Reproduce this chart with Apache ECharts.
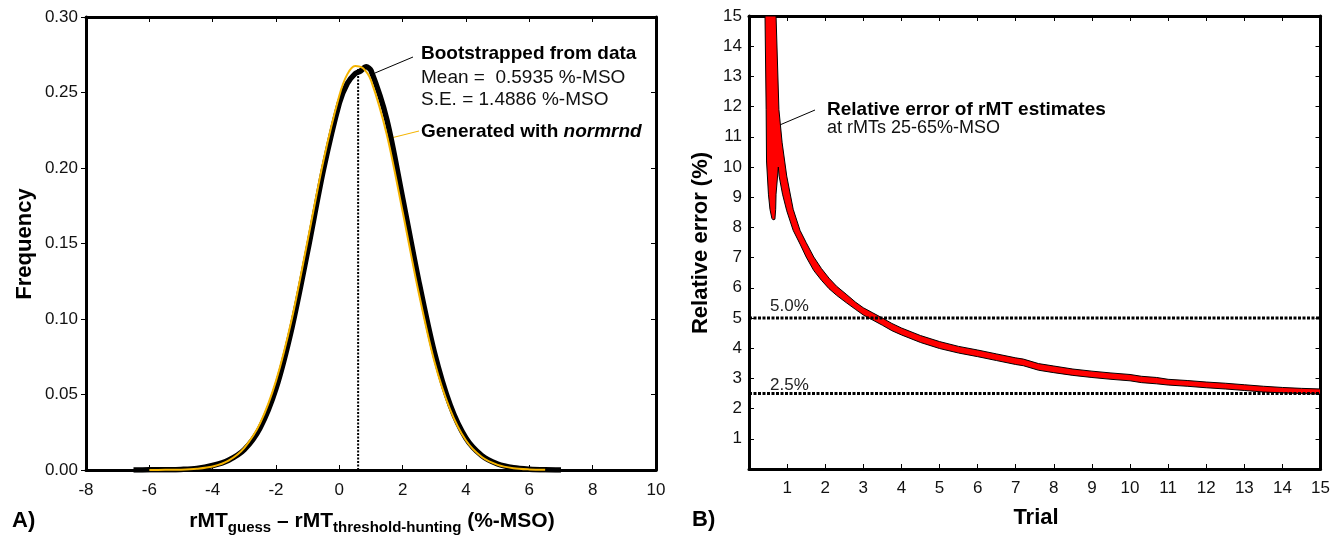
<!DOCTYPE html>
<html>
<head>
<meta charset="utf-8">
<script src="https://cdn.jsdelivr.net/npm/echarts@6/dist/echarts.min.js"></script>
<style>
html, body { margin: 0; padding: 0; background: #fff; }
#main { width: 1333px; height: 537px; }
</style>
</head>
<body>
<div id="main"></div>
<script>
// panel A: distribution of rMT differences
var bootX = [-6.5, -6, -5.5, -5, -4.5, -4, -3.5, -3, -2.5, -2, -1.5, -1, -0.5, 0, 0.25, 0.5, 0.65, 0.85, 1, 1.5, 2, 2.5, 3, 3.5, 4, 4.5, 5, 5.5, 6, 6.5, 7];
var bootFreq = [0, 0.0001, 0.0002, 0.0004, 0.001, 0.003, 0.0065, 0.0135, 0.028, 0.054, 0.094, 0.145, 0.199, 0.243, 0.256, 0.2625, 0.264, 0.267, 0.2645, 0.232, 0.18, 0.126, 0.078, 0.043, 0.021, 0.0095, 0.004, 0.0015, 0.0005, 0.0001, 0];
var normX = [-6, -5.5, -5, -4.5, -4, -3.5, -3, -2.5, -2, -1.5, -1, -0.5, 0, 0.25, 0.5, 0.75, 1, 1.5, 2, 2.5, 3, 3.5, 4, 4.5, 5, 5.5, 6, 6.5];
var normFreq = [0, 0.0001, 0.0002, 0.0008, 0.0023, 0.0062, 0.0147, 0.031, 0.059, 0.1, 0.152, 0.205, 0.248, 0.262, 0.2675, 0.266, 0.258, 0.222, 0.171, 0.118, 0.072, 0.04, 0.0195, 0.0086, 0.0034, 0.0012, 0.0004, 0.0001];
var meanDiff = 0.5935;
var meanPeak = 0.266;

// panel B: relative error band vs trial ([trial, error %])
var spikeEdge = [[0.42, 15], [0.45, 11.9], [0.46, 10.2], [0.51, 9.1], [0.55, 8.6], [0.6, 8.3], [0.63, 8.25], [0.68, 8.27], [0.7, 8.6], [0.71, 9.1], [0.77, 10.0]];
var lowerEdge = [[0.79, 9.7], [0.88, 9.1], [0.99, 8.55], [1.16, 7.9], [1.35, 7.42], [1.5, 7.02], [1.7, 6.57], [1.9, 6.25], [2.1, 5.97], [2.3, 5.75], [2.55, 5.51], [2.8, 5.28], [3.0, 5.1], [3.25, 4.93], [3.5, 4.76], [3.75, 4.58], [4.0, 4.44], [4.5, 4.19], [5.0, 3.99], [5.5, 3.84], [6.0, 3.72], [6.5, 3.59], [7.0, 3.46], [7.2, 3.42], [7.6, 3.27], [8.0, 3.19], [8.5, 3.1], [9.0, 3.03], [9.5, 2.97], [10.0, 2.92], [10.3, 2.86], [10.7, 2.82], [11.0, 2.78], [11.5, 2.74], [12.0, 2.69], [12.5, 2.65], [13.0, 2.6], [13.5, 2.55], [14.0, 2.52], [14.5, 2.5], [15.0, 2.48]];
var upperEdge = [[0.71, 15], [0.785, 11.9], [0.87, 10.8], [0.99, 9.7], [1.16, 8.6], [1.34, 7.9], [1.5, 7.5], [1.7, 7.02], [1.9, 6.64], [2.1, 6.32], [2.3, 6.05], [2.55, 5.79], [2.8, 5.52], [3.0, 5.34], [3.25, 5.17], [3.5, 5.0], [3.75, 4.82], [4.0, 4.67], [4.5, 4.42], [5.0, 4.22], [5.5, 4.06], [6.0, 3.94], [6.5, 3.81], [7.0, 3.68], [7.2, 3.64], [7.6, 3.49], [8.0, 3.41], [8.5, 3.31], [9.0, 3.24], [9.5, 3.18], [10.0, 3.13], [10.3, 3.07], [10.7, 3.03], [11.0, 2.97], [11.5, 2.93], [12.0, 2.88], [12.5, 2.84], [13.0, 2.79], [13.5, 2.74], [14.0, 2.7], [14.5, 2.67], [15.0, 2.65]];
var refLevels = [5.0, 2.5];

var FONT = '"Liberation Sans", Arial, Helvetica, sans-serif';

function zip(xs, ys) {
	return xs.map(function (x, i) { return [x, ys[i]]; });
}

function axis(grid, pos, min, max, step, labels, fmt, tickInside, margin) {
	return {
		type: 'value', gridIndex: grid, position: pos,
		min: min, max: max, interval: step,
		axisLine: { onZero: false, lineStyle: { color: '#000', width: 3 } },
		axisTick: { show: true, inside: tickInside, length: 5, lineStyle: { color: '#000', width: 1 } },
		axisLabel: { show: labels, margin: margin, fontSize: 17, color: '#111', fontFamily: FONT, formatter: fmt },
		splitLine: { show: false }
	};
}

var bandOutline = spikeEdge.concat(lowerEdge, upperEdge.slice().reverse());
var dots = [3, 1.5];

var myChart = echarts.init(document.getElementById('main'));

var option = {
	animation: false,
	backgroundColor: '#fff',
	grid: [
		{ left: 86, top: 17, width: 570, height: 453 },
		{ left: 749, top: 16, width: 573, height: 453 }
	],
	xAxis: [
		axis(0, 'bottom', -8, 10, 2, true, function (v) { return String(v); }, true, 12),
		axis(0, 'top', -8, 10, 2, false, null, true, 8),
		axis(1, 'bottom', 0, 15, 1, true, function (v) { return v === 0 ? '' : String(v); }, true, 11),
		axis(1, 'top', 0, 15, 1, false, null, true, 8)
	],
	yAxis: [
		axis(0, 'left', 0, 0.3, 0.05, true, function (v) { return v.toFixed(2); }, false, 8),
		axis(0, 'right', 0, 0.3, 0.05, false, null, true, 8),
		axis(1, 'left', 0, 15, 1, true, function (v) { return v === 0 ? '' : String(v); }, true, 7),
		axis(1, 'right', 0, 15, 1, false, null, true, 8)
	],
	series: [
		{
			name: 'Bootstrapped from data', type: 'line', xAxisIndex: 0, yAxisIndex: 0,
			smooth: 0.3, showSymbol: false,
			lineStyle: { color: '#000', width: 5.5 },
			data: zip(bootX, bootFreq)
		},
		{
			name: 'Generated with normrnd', type: 'line', xAxisIndex: 0, yAxisIndex: 0,
			smooth: 0.3, showSymbol: false,
			lineStyle: { color: '#f5b400', width: 2 },
			data: zip(normX, normFreq)
		},
		{
			name: 'Mean', type: 'line', xAxisIndex: 0, yAxisIndex: 0,
			showSymbol: false,
			lineStyle: { color: '#000', width: 2, type: [2, 1.5] },
			data: [[meanDiff, 0], [meanDiff, meanPeak]]
		},
		{
			name: 'Relative error', type: 'custom', xAxisIndex: 2, yAxisIndex: 2,
			clip: true,
			data: [[0, 0]],
			renderItem: function (params, api) {
				var pts = bandOutline.map(function (p) { return api.coord(p); });
				return {
					type: 'polygon',
					shape: { points: pts },
					style: { fill: '#ff0000', stroke: '#000', lineWidth: 1 }
				};
			}
		}
	].concat(refLevels.map(function (lv) {
		return {
			name: lv.toFixed(1) + '%', type: 'line', xAxisIndex: 2, yAxisIndex: 2,
			showSymbol: false,
			lineStyle: { color: '#000', width: 3, type: dots },
			data: [[0, lv], [15, lv]]
		};
	})),
	graphic: [
		// panel A labels
		{ type: 'text', x: 25, y: 244, rotation: Math.PI / 2,
			style: { text: 'Frequency', font: 'bold 22px ' + FONT, fill: '#000', textAlign: 'center', textVerticalAlign: 'middle' } },
		{ type: 'text', x: 372, y: 521,
			style: {
				text: '{m|rMT}{s|guess}{m| \u2013 rMT}{s|threshold-hunting}{m| (%-MSO)}',
				textAlign: 'center', textVerticalAlign: 'middle',
				rich: {
					m: { fontSize: 21, fontWeight: 'bold', fontFamily: FONT, fill: '#000', lineHeight: 24 },
					s: { fontSize: 15, fontWeight: 'bold', fontFamily: FONT, fill: '#000', lineHeight: 16, padding: [14, 0, 0, 0] }
				}
			} },
		{ type: 'text', x: 12, y: 521,
			style: { text: 'A)', font: 'bold 22px ' + FONT, fill: '#000', textVerticalAlign: 'middle' } },
		{ type: 'text', x: 421, y: 54,
			style: { text: 'Bootstrapped from data', font: 'bold 19px ' + FONT, fill: '#000', textVerticalAlign: 'middle' } },
		{ type: 'text', x: 421, y: 77.5,
			style: { text: 'Mean =  0.5935 %-MSO', font: '19px ' + FONT, fill: '#111', textVerticalAlign: 'middle' } },
		{ type: 'text', x: 421, y: 100,
			style: { text: 'S.E. = 1.4886 %-MSO', font: '19px ' + FONT, fill: '#111', textVerticalAlign: 'middle' } },
		{ type: 'text', x: 421, y: 131.5,
			style: {
				text: '{b|Generated with }{i|normrnd}', textVerticalAlign: 'middle',
				rich: {
					b: { fontSize: 19, fontWeight: 'bold', fontFamily: FONT, fill: '#000' },
					i: { fontSize: 19, fontWeight: 'bold', fontStyle: 'italic', fontFamily: FONT, fill: '#000' }
				}
			} },
		{ type: 'line', shape: { x1: 375, y1: 73, x2: 413, y2: 57 }, style: { stroke: '#000', lineWidth: 1 } },
		{ type: 'line', shape: { x1: 391, y1: 138, x2: 419, y2: 131 }, style: { stroke: '#f5b400', lineWidth: 1 } },
		// panel B labels
		{ type: 'text', x: 701, y: 243, rotation: Math.PI / 2,
			style: { text: 'Relative error (%)', font: 'bold 22px ' + FONT, fill: '#000', textAlign: 'center', textVerticalAlign: 'middle' } },
		{ type: 'text', x: 1036, y: 518,
			style: { text: 'Trial', font: 'bold 22px ' + FONT, fill: '#000', textAlign: 'center', textVerticalAlign: 'middle' } },
		{ type: 'text', x: 692, y: 520,
			style: { text: 'B)', font: 'bold 22px ' + FONT, fill: '#000', textVerticalAlign: 'middle' } },
		{ type: 'text', x: 827, y: 110,
			style: { text: 'Relative error of rMT estimates', font: 'bold 19px ' + FONT, fill: '#000', textVerticalAlign: 'middle' } },
		{ type: 'text', x: 827, y: 128,
			style: { text: 'at rMTs 25-65%-MSO', font: '18px ' + FONT, fill: '#111', textVerticalAlign: 'middle' } },
		{ type: 'line', shape: { x1: 775, y1: 127, x2: 815, y2: 110 }, style: { stroke: '#000', lineWidth: 1 } },
		{ type: 'text', x: 770, y: 306,
			style: { text: '5.0%', font: '17px ' + FONT, fill: '#222', textVerticalAlign: 'middle' } },
		{ type: 'text', x: 770, y: 385,
			style: { text: '2.5%', font: '17px ' + FONT, fill: '#222', textVerticalAlign: 'middle' } }
	]
};

myChart.setOption(option);
</script>
</body>
</html>
